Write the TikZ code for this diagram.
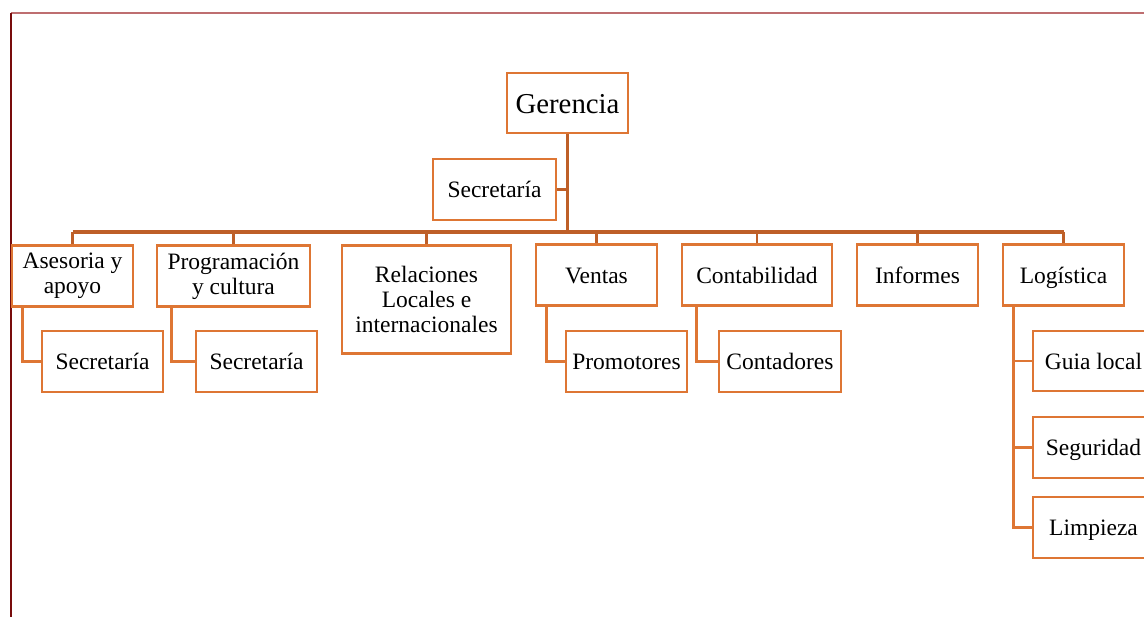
\documentclass[tikz,border=0pt]{standalone}
\usepackage{fontspec}
\setmainfont{Liberation Serif}
\definecolor{boxcol}{RGB}{222,118,52}
\definecolor{trunkcol}{RGB}{190,95,40}
\definecolor{frametop}{RGB}{190,110,112}
\definecolor{frameleft}{RGB}{120,12,12}
\tikzset{
  bxm/.style={draw=boxcol, line width=1.4pt, fill=white, inner sep=0pt, align=center,
    font=\fontsize{11.75}{12.4}\selectfont, text=black},
  bx/.style={bxm, text height=8pt, text depth=0pt},
  trunk/.style={draw=trunkcol, line width=1.8pt},
  stub/.style={draw=trunkcol, line width=1.3pt},
  elbow/.style={draw=boxcol, line width=1.4pt},
}
\begin{document}
\begin{tikzpicture}[x=0.5pt, y=-0.5pt]
\useasboundingbox (0,0) rectangle (1144,617);
\clip (0,0) rectangle (1144,617);
% frame
\draw[frametop, line width=1.2pt] (11,13) -- (1144,13);
\draw[frameleft, line width=1pt] (11,13) -- (11,617);
\coordinate (bar) at (0,232);
\node[bx, minimum width=60.5pt, minimum height=30pt, text height=10pt, font=\fontsize{14.4}{16}\selectfont] (ger) at (567.5,103) {Gerencia};
\node[bx, minimum width=61.5pt, minimum height=30.5pt] (sec0) at (494.5,189.5) {Secretaría};
\node[bxm, minimum width=60.5pt, minimum height=30.5pt] (ase) at (72.5,276) {Asesoria y\\apoyo};
\node[bxm, minimum width=76.5pt, minimum height=30.5pt] (pro) at (233.5,276) {Programación\\y cultura};
\node[bxm, minimum width=84.5pt, minimum height=54pt] (rel) at (426.5,299.5) {Relaciones\\Locales e\\internacionales};
\node[bx, minimum width=60.5pt, minimum height=30.5pt] (ven) at (596.5,275) {Ventas};
\node[bx, minimum width=75pt, minimum height=30.5pt] (con) at (757,275) {Contabilidad};
\node[bx, minimum width=60.5pt, minimum height=30.5pt] (inf) at (917.5,275) {Informes};
\node[bx, minimum width=60.5pt, minimum height=30.5pt] (log) at (1063.5,275) {Logística};
\node[bx, minimum width=60.5pt, minimum height=30.5pt] (sec1) at (102.5,361.5) {Secretaría};
\node[bx, minimum width=60.5pt, minimum height=30.5pt] (sec2) at (256.5,361.5) {Secretaría};
\node[bx, minimum width=60.5pt, minimum height=30.5pt] (prm) at (626.5,361.5) {Promotores};
\node[bx, minimum width=61pt, minimum height=30.5pt] (cnt) at (780,361.5) {Contadores};
\node[bx, minimum width=60.5pt, minimum height=30pt] (gui) at (1093.5,361) {Guia local};
\node[bx, minimum width=60.5pt, minimum height=30.5pt] (seg) at (1093.5,447.5) {Seguridad};
\node[bx, minimum width=60.5pt, minimum height=30.5pt] (lim) at (1093.5,527.5) {Limpieza};
% main trunk and bar
\draw[trunk] (ger.south) -- (ger.south |- bar);
\draw[trunk] (ase.north |- bar) -- (log.north |- bar);
\draw[stub] (sec0.east) -- (sec0.east -| ger.south);
\foreach \n in {ase,pro,rel,ven,con,inf,log}
  \draw[stub] (\n.north) -- (\n.north |- bar);
% second-level elbows
\draw[elbow] ([xshift=6pt]ase.south west) |- (sec1.west);
\draw[elbow] ([xshift=8pt]pro.south west) |- (sec2.west);
\draw[elbow] ([xshift=6pt]ven.south west) |- (prm.west);
\draw[elbow] ([xshift=8pt]con.south west) |- (cnt.west);
\draw[elbow] ([xshift=6pt]log.south west) |- (gui.west);
\draw[elbow] ([xshift=6pt]log.south west) |- (seg.west);
\draw[elbow] ([xshift=6pt]log.south west) |- (lim.west);
\end{tikzpicture}
\end{document}
